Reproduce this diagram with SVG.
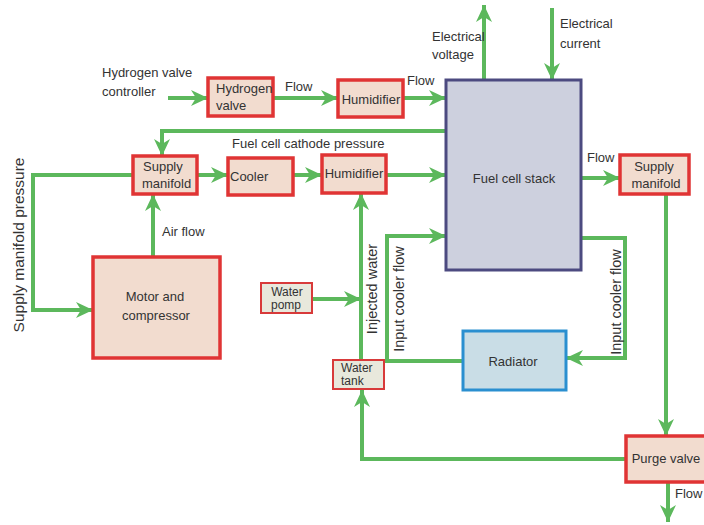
<svg xmlns="http://www.w3.org/2000/svg" width="704" height="525" viewBox="0 0 704 525">
<defs>
<marker id="ah" markerUnits="userSpaceOnUse" markerWidth="18" markerHeight="16" viewBox="0 0 18 16" refX="17" refY="8" orient="auto">
<path d="M0,0 L17,8 L0,16 L5,8 z" fill="#5cb85c"/>
</marker>
<style>
.box{fill:#f2dccf;stroke:#e03434;stroke-width:3.5}
.sbox{fill:#e8e8dc;stroke:#d83a3a;stroke-width:2}
.stack{fill:#cdd0de;stroke:#4c4a80;stroke-width:3}
.rad{fill:#c9dde6;stroke:#2a8fd0;stroke-width:3}
.c{fill:none;stroke:#5cb85c;stroke-width:4;marker-end:url(#ah)}
text{font-family:"Liberation Sans",Arial,sans-serif;font-size:13px;fill:#333}
.m{text-anchor:middle}
.r{font-size:14.5px}
.s{font-size:12px}
</style>
</defs>
<rect width="704" height="525" fill="#fff"/>
<g id="connectors">
<path class="c" d="M168,98 H208"/>
<path class="c" d="M273,98 H338"/>
<path class="c" d="M403,98 H446"/>
<path class="c" d="M484,80 V5"/>
<path class="c" d="M552,8 V80"/>
<path class="c" d="M446,131 H162 V156"/>
<path class="c" d="M197,175 H228"/>
<path class="c" d="M293,175 H322"/>
<path class="c" d="M386,175 H446"/>
<path class="c" d="M153,257 V194"/>
<path class="c" d="M133,175 H33 V310 H93"/>
<path class="c" d="M312,299 H361"/>
<path class="c" d="M361,360 V193"/>
<path class="c" d="M463,361 H387 V236 H446"/>
<path class="c" d="M581,238 H625 V358 H566"/>
<path class="c" d="M581,178 H620"/>
<path class="c" d="M666,194 V436"/>
<path class="c" d="M668,482 V522"/>
<path class="c" d="M627,459 H362 V390"/>
</g>
<g id="hydrogen-valve"><rect class="box" x="208" y="78" width="65" height="38"/><text x="216" y="93">Hydrogen</text><text x="216" y="110">valve</text></g>
<g id="humidifier-top"><rect class="box" x="338" y="80" width="65" height="37"/><text class="m" x="371" y="104">Humidifier</text></g>
<g id="fuel-cell-stack"><rect class="stack" x="446" y="80" width="135" height="190"/><text class="m" x="514" y="183">Fuel cell stack</text></g>
<g id="supply-manifold-left"><rect class="box" x="133" y="156" width="64" height="38"/><text x="143" y="171">Supply</text><text x="142" y="188">manifold</text></g>
<g id="cooler"><rect class="box" x="228" y="158" width="65" height="37"/><text x="230" y="181">Cooler</text></g>
<g id="humidifier"><rect class="box" x="322" y="155" width="64" height="38"/><text class="m" x="354" y="178">Humidifier</text></g>
<g id="supply-manifold-right"><rect class="box" x="620" y="155" width="69" height="39"/><text class="m" x="654" y="171">Supply</text><text class="m" x="656" y="188">manifold</text></g>
<g id="motor-compressor"><rect class="box" x="93" y="257" width="127" height="101"/><text class="m" x="155" y="301">Motor and</text><text class="m" x="156" y="320">compressor</text></g>
<g id="water-pump"><rect class="sbox" x="261" y="283" width="51" height="30"/><text class="m s" x="287" y="296">Water</text><text class="m s" x="286" y="309">pomp</text></g>
<g id="water-tank"><rect class="sbox" x="333" y="360" width="51" height="29"/><text class="s" x="341" y="372">Water</text><text class="s" x="341" y="385">tank</text></g>
<g id="radiator"><rect class="rad" x="463" y="331" width="103" height="59"/><text class="m" x="513" y="366">Radiator</text></g>
<g id="purge-valve"><rect class="box" x="626" y="436" width="80" height="46"/><text class="m" x="666" y="463">Purge valve</text></g>
<g id="labels">
<text x="102" y="77">Hydrogen valve</text>
<text x="102" y="96">controller</text>
<text x="285" y="91">Flow</text>
<text x="407" y="85">Flow</text>
<text x="432" y="41">Electrical</text>
<text x="432" y="59">voltage</text>
<text x="560" y="28">Electrical</text>
<text x="560" y="48">current</text>
<text x="232" y="148">Fuel cell cathode pressure</text>
<text x="587" y="162">Flow</text>
<text x="162" y="236">Air flow</text>
<text x="675" y="498">Flow</text>
<text class="m" style="font-size:15.5px" transform="translate(24,245) rotate(-90)">Supply manifold pressure</text>
<text class="m r" transform="translate(377,289) rotate(-90)">Injected water</text>
<text class="m r" transform="translate(404,299) rotate(-90)">Input cooler flow</text>
<text class="m r" transform="translate(621,302) rotate(-90)">Input cooler flow</text>
</g>
</svg>
